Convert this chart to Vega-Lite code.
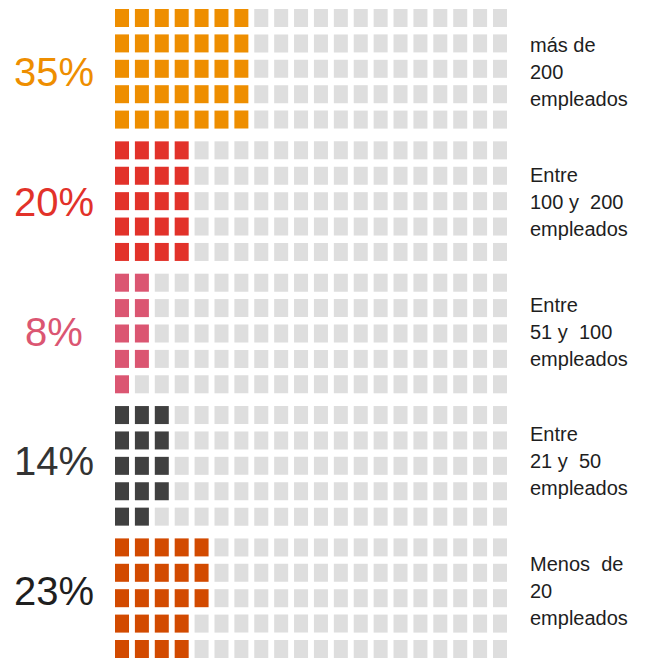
{
"$schema": "https://vega.github.io/schema/vega-lite/v6.json",
"padding": {"left": 0, "top": 9, "right": 0, "bottom": 0},
"background": "white",
"config": {"view": {"stroke": null}, "font": "Liberation Sans", "text": {"font": "Liberation Sans"}},
"spacing": 7,
"resolve": {"scale": {"color": "independent"}},
"datasets": {
"labels": [
{"g":1,"pct":"35%","label":"más de\n200\nempleados"},
{"g":2,"pct":"20%","label":"Entre\n100 y\u00a0 200\nempleados"},
{"g":3,"pct":"8%","label":"Entre\n51 y\u00a0 100\nempleados"},
{"g":4,"pct":"14%","label":"Entre\n21 y\u00a0 50\nempleados"},
{"g":5,"pct":"23%","label":"Menos\u00a0 de\n20\nempleados"}
],
"cells": [
{"g":1,"c":0,"r":0,"f":1},{"g":1,"c":0,"r":1,"f":1},{"g":1,"c":0,"r":2,"f":1},{"g":1,"c":0,"r":3,"f":1},{"g":1,"c":0,"r":4,"f":1},
{"g":1,"c":1,"r":0,"f":1},{"g":1,"c":1,"r":1,"f":1},{"g":1,"c":1,"r":2,"f":1},{"g":1,"c":1,"r":3,"f":1},{"g":1,"c":1,"r":4,"f":1},
{"g":1,"c":2,"r":0,"f":1},{"g":1,"c":2,"r":1,"f":1},{"g":1,"c":2,"r":2,"f":1},{"g":1,"c":2,"r":3,"f":1},{"g":1,"c":2,"r":4,"f":1},
{"g":1,"c":3,"r":0,"f":1},{"g":1,"c":3,"r":1,"f":1},{"g":1,"c":3,"r":2,"f":1},{"g":1,"c":3,"r":3,"f":1},{"g":1,"c":3,"r":4,"f":1},
{"g":1,"c":4,"r":0,"f":1},{"g":1,"c":4,"r":1,"f":1},{"g":1,"c":4,"r":2,"f":1},{"g":1,"c":4,"r":3,"f":1},{"g":1,"c":4,"r":4,"f":1},
{"g":1,"c":5,"r":0,"f":1},{"g":1,"c":5,"r":1,"f":1},{"g":1,"c":5,"r":2,"f":1},{"g":1,"c":5,"r":3,"f":1},{"g":1,"c":5,"r":4,"f":1},
{"g":1,"c":6,"r":0,"f":1},{"g":1,"c":6,"r":1,"f":1},{"g":1,"c":6,"r":2,"f":1},{"g":1,"c":6,"r":3,"f":1},{"g":1,"c":6,"r":4,"f":1},
{"g":1,"c":7,"r":0,"f":0},{"g":1,"c":7,"r":1,"f":0},{"g":1,"c":7,"r":2,"f":0},{"g":1,"c":7,"r":3,"f":0},{"g":1,"c":7,"r":4,"f":0},
{"g":1,"c":8,"r":0,"f":0},{"g":1,"c":8,"r":1,"f":0},{"g":1,"c":8,"r":2,"f":0},{"g":1,"c":8,"r":3,"f":0},{"g":1,"c":8,"r":4,"f":0},
{"g":1,"c":9,"r":0,"f":0},{"g":1,"c":9,"r":1,"f":0},{"g":1,"c":9,"r":2,"f":0},{"g":1,"c":9,"r":3,"f":0},{"g":1,"c":9,"r":4,"f":0},
{"g":1,"c":10,"r":0,"f":0},{"g":1,"c":10,"r":1,"f":0},{"g":1,"c":10,"r":2,"f":0},{"g":1,"c":10,"r":3,"f":0},{"g":1,"c":10,"r":4,"f":0},
{"g":1,"c":11,"r":0,"f":0},{"g":1,"c":11,"r":1,"f":0},{"g":1,"c":11,"r":2,"f":0},{"g":1,"c":11,"r":3,"f":0},{"g":1,"c":11,"r":4,"f":0},
{"g":1,"c":12,"r":0,"f":0},{"g":1,"c":12,"r":1,"f":0},{"g":1,"c":12,"r":2,"f":0},{"g":1,"c":12,"r":3,"f":0},{"g":1,"c":12,"r":4,"f":0},
{"g":1,"c":13,"r":0,"f":0},{"g":1,"c":13,"r":1,"f":0},{"g":1,"c":13,"r":2,"f":0},{"g":1,"c":13,"r":3,"f":0},{"g":1,"c":13,"r":4,"f":0},
{"g":1,"c":14,"r":0,"f":0},{"g":1,"c":14,"r":1,"f":0},{"g":1,"c":14,"r":2,"f":0},{"g":1,"c":14,"r":3,"f":0},{"g":1,"c":14,"r":4,"f":0},
{"g":1,"c":15,"r":0,"f":0},{"g":1,"c":15,"r":1,"f":0},{"g":1,"c":15,"r":2,"f":0},{"g":1,"c":15,"r":3,"f":0},{"g":1,"c":15,"r":4,"f":0},
{"g":1,"c":16,"r":0,"f":0},{"g":1,"c":16,"r":1,"f":0},{"g":1,"c":16,"r":2,"f":0},{"g":1,"c":16,"r":3,"f":0},{"g":1,"c":16,"r":4,"f":0},
{"g":1,"c":17,"r":0,"f":0},{"g":1,"c":17,"r":1,"f":0},{"g":1,"c":17,"r":2,"f":0},{"g":1,"c":17,"r":3,"f":0},{"g":1,"c":17,"r":4,"f":0},
{"g":1,"c":18,"r":0,"f":0},{"g":1,"c":18,"r":1,"f":0},{"g":1,"c":18,"r":2,"f":0},{"g":1,"c":18,"r":3,"f":0},{"g":1,"c":18,"r":4,"f":0},
{"g":1,"c":19,"r":0,"f":0},{"g":1,"c":19,"r":1,"f":0},{"g":1,"c":19,"r":2,"f":0},{"g":1,"c":19,"r":3,"f":0},{"g":1,"c":19,"r":4,"f":0},
{"g":2,"c":0,"r":0,"f":1},{"g":2,"c":0,"r":1,"f":1},{"g":2,"c":0,"r":2,"f":1},{"g":2,"c":0,"r":3,"f":1},{"g":2,"c":0,"r":4,"f":1},
{"g":2,"c":1,"r":0,"f":1},{"g":2,"c":1,"r":1,"f":1},{"g":2,"c":1,"r":2,"f":1},{"g":2,"c":1,"r":3,"f":1},{"g":2,"c":1,"r":4,"f":1},
{"g":2,"c":2,"r":0,"f":1},{"g":2,"c":2,"r":1,"f":1},{"g":2,"c":2,"r":2,"f":1},{"g":2,"c":2,"r":3,"f":1},{"g":2,"c":2,"r":4,"f":1},
{"g":2,"c":3,"r":0,"f":1},{"g":2,"c":3,"r":1,"f":1},{"g":2,"c":3,"r":2,"f":1},{"g":2,"c":3,"r":3,"f":1},{"g":2,"c":3,"r":4,"f":1},
{"g":2,"c":4,"r":0,"f":0},{"g":2,"c":4,"r":1,"f":0},{"g":2,"c":4,"r":2,"f":0},{"g":2,"c":4,"r":3,"f":0},{"g":2,"c":4,"r":4,"f":0},
{"g":2,"c":5,"r":0,"f":0},{"g":2,"c":5,"r":1,"f":0},{"g":2,"c":5,"r":2,"f":0},{"g":2,"c":5,"r":3,"f":0},{"g":2,"c":5,"r":4,"f":0},
{"g":2,"c":6,"r":0,"f":0},{"g":2,"c":6,"r":1,"f":0},{"g":2,"c":6,"r":2,"f":0},{"g":2,"c":6,"r":3,"f":0},{"g":2,"c":6,"r":4,"f":0},
{"g":2,"c":7,"r":0,"f":0},{"g":2,"c":7,"r":1,"f":0},{"g":2,"c":7,"r":2,"f":0},{"g":2,"c":7,"r":3,"f":0},{"g":2,"c":7,"r":4,"f":0},
{"g":2,"c":8,"r":0,"f":0},{"g":2,"c":8,"r":1,"f":0},{"g":2,"c":8,"r":2,"f":0},{"g":2,"c":8,"r":3,"f":0},{"g":2,"c":8,"r":4,"f":0},
{"g":2,"c":9,"r":0,"f":0},{"g":2,"c":9,"r":1,"f":0},{"g":2,"c":9,"r":2,"f":0},{"g":2,"c":9,"r":3,"f":0},{"g":2,"c":9,"r":4,"f":0},
{"g":2,"c":10,"r":0,"f":0},{"g":2,"c":10,"r":1,"f":0},{"g":2,"c":10,"r":2,"f":0},{"g":2,"c":10,"r":3,"f":0},{"g":2,"c":10,"r":4,"f":0},
{"g":2,"c":11,"r":0,"f":0},{"g":2,"c":11,"r":1,"f":0},{"g":2,"c":11,"r":2,"f":0},{"g":2,"c":11,"r":3,"f":0},{"g":2,"c":11,"r":4,"f":0},
{"g":2,"c":12,"r":0,"f":0},{"g":2,"c":12,"r":1,"f":0},{"g":2,"c":12,"r":2,"f":0},{"g":2,"c":12,"r":3,"f":0},{"g":2,"c":12,"r":4,"f":0},
{"g":2,"c":13,"r":0,"f":0},{"g":2,"c":13,"r":1,"f":0},{"g":2,"c":13,"r":2,"f":0},{"g":2,"c":13,"r":3,"f":0},{"g":2,"c":13,"r":4,"f":0},
{"g":2,"c":14,"r":0,"f":0},{"g":2,"c":14,"r":1,"f":0},{"g":2,"c":14,"r":2,"f":0},{"g":2,"c":14,"r":3,"f":0},{"g":2,"c":14,"r":4,"f":0},
{"g":2,"c":15,"r":0,"f":0},{"g":2,"c":15,"r":1,"f":0},{"g":2,"c":15,"r":2,"f":0},{"g":2,"c":15,"r":3,"f":0},{"g":2,"c":15,"r":4,"f":0},
{"g":2,"c":16,"r":0,"f":0},{"g":2,"c":16,"r":1,"f":0},{"g":2,"c":16,"r":2,"f":0},{"g":2,"c":16,"r":3,"f":0},{"g":2,"c":16,"r":4,"f":0},
{"g":2,"c":17,"r":0,"f":0},{"g":2,"c":17,"r":1,"f":0},{"g":2,"c":17,"r":2,"f":0},{"g":2,"c":17,"r":3,"f":0},{"g":2,"c":17,"r":4,"f":0},
{"g":2,"c":18,"r":0,"f":0},{"g":2,"c":18,"r":1,"f":0},{"g":2,"c":18,"r":2,"f":0},{"g":2,"c":18,"r":3,"f":0},{"g":2,"c":18,"r":4,"f":0},
{"g":2,"c":19,"r":0,"f":0},{"g":2,"c":19,"r":1,"f":0},{"g":2,"c":19,"r":2,"f":0},{"g":2,"c":19,"r":3,"f":0},{"g":2,"c":19,"r":4,"f":0},
{"g":3,"c":0,"r":0,"f":1},{"g":3,"c":0,"r":1,"f":1},{"g":3,"c":0,"r":2,"f":1},{"g":3,"c":0,"r":3,"f":1},{"g":3,"c":0,"r":4,"f":1},
{"g":3,"c":1,"r":0,"f":1},{"g":3,"c":1,"r":1,"f":1},{"g":3,"c":1,"r":2,"f":1},{"g":3,"c":1,"r":3,"f":1},{"g":3,"c":1,"r":4,"f":0},
{"g":3,"c":2,"r":0,"f":0},{"g":3,"c":2,"r":1,"f":0},{"g":3,"c":2,"r":2,"f":0},{"g":3,"c":2,"r":3,"f":0},{"g":3,"c":2,"r":4,"f":0},
{"g":3,"c":3,"r":0,"f":0},{"g":3,"c":3,"r":1,"f":0},{"g":3,"c":3,"r":2,"f":0},{"g":3,"c":3,"r":3,"f":0},{"g":3,"c":3,"r":4,"f":0},
{"g":3,"c":4,"r":0,"f":0},{"g":3,"c":4,"r":1,"f":0},{"g":3,"c":4,"r":2,"f":0},{"g":3,"c":4,"r":3,"f":0},{"g":3,"c":4,"r":4,"f":0},
{"g":3,"c":5,"r":0,"f":0},{"g":3,"c":5,"r":1,"f":0},{"g":3,"c":5,"r":2,"f":0},{"g":3,"c":5,"r":3,"f":0},{"g":3,"c":5,"r":4,"f":0},
{"g":3,"c":6,"r":0,"f":0},{"g":3,"c":6,"r":1,"f":0},{"g":3,"c":6,"r":2,"f":0},{"g":3,"c":6,"r":3,"f":0},{"g":3,"c":6,"r":4,"f":0},
{"g":3,"c":7,"r":0,"f":0},{"g":3,"c":7,"r":1,"f":0},{"g":3,"c":7,"r":2,"f":0},{"g":3,"c":7,"r":3,"f":0},{"g":3,"c":7,"r":4,"f":0},
{"g":3,"c":8,"r":0,"f":0},{"g":3,"c":8,"r":1,"f":0},{"g":3,"c":8,"r":2,"f":0},{"g":3,"c":8,"r":3,"f":0},{"g":3,"c":8,"r":4,"f":0},
{"g":3,"c":9,"r":0,"f":0},{"g":3,"c":9,"r":1,"f":0},{"g":3,"c":9,"r":2,"f":0},{"g":3,"c":9,"r":3,"f":0},{"g":3,"c":9,"r":4,"f":0},
{"g":3,"c":10,"r":0,"f":0},{"g":3,"c":10,"r":1,"f":0},{"g":3,"c":10,"r":2,"f":0},{"g":3,"c":10,"r":3,"f":0},{"g":3,"c":10,"r":4,"f":0},
{"g":3,"c":11,"r":0,"f":0},{"g":3,"c":11,"r":1,"f":0},{"g":3,"c":11,"r":2,"f":0},{"g":3,"c":11,"r":3,"f":0},{"g":3,"c":11,"r":4,"f":0},
{"g":3,"c":12,"r":0,"f":0},{"g":3,"c":12,"r":1,"f":0},{"g":3,"c":12,"r":2,"f":0},{"g":3,"c":12,"r":3,"f":0},{"g":3,"c":12,"r":4,"f":0},
{"g":3,"c":13,"r":0,"f":0},{"g":3,"c":13,"r":1,"f":0},{"g":3,"c":13,"r":2,"f":0},{"g":3,"c":13,"r":3,"f":0},{"g":3,"c":13,"r":4,"f":0},
{"g":3,"c":14,"r":0,"f":0},{"g":3,"c":14,"r":1,"f":0},{"g":3,"c":14,"r":2,"f":0},{"g":3,"c":14,"r":3,"f":0},{"g":3,"c":14,"r":4,"f":0},
{"g":3,"c":15,"r":0,"f":0},{"g":3,"c":15,"r":1,"f":0},{"g":3,"c":15,"r":2,"f":0},{"g":3,"c":15,"r":3,"f":0},{"g":3,"c":15,"r":4,"f":0},
{"g":3,"c":16,"r":0,"f":0},{"g":3,"c":16,"r":1,"f":0},{"g":3,"c":16,"r":2,"f":0},{"g":3,"c":16,"r":3,"f":0},{"g":3,"c":16,"r":4,"f":0},
{"g":3,"c":17,"r":0,"f":0},{"g":3,"c":17,"r":1,"f":0},{"g":3,"c":17,"r":2,"f":0},{"g":3,"c":17,"r":3,"f":0},{"g":3,"c":17,"r":4,"f":0},
{"g":3,"c":18,"r":0,"f":0},{"g":3,"c":18,"r":1,"f":0},{"g":3,"c":18,"r":2,"f":0},{"g":3,"c":18,"r":3,"f":0},{"g":3,"c":18,"r":4,"f":0},
{"g":3,"c":19,"r":0,"f":0},{"g":3,"c":19,"r":1,"f":0},{"g":3,"c":19,"r":2,"f":0},{"g":3,"c":19,"r":3,"f":0},{"g":3,"c":19,"r":4,"f":0},
{"g":4,"c":0,"r":0,"f":1},{"g":4,"c":0,"r":1,"f":1},{"g":4,"c":0,"r":2,"f":1},{"g":4,"c":0,"r":3,"f":1},{"g":4,"c":0,"r":4,"f":1},
{"g":4,"c":1,"r":0,"f":1},{"g":4,"c":1,"r":1,"f":1},{"g":4,"c":1,"r":2,"f":1},{"g":4,"c":1,"r":3,"f":1},{"g":4,"c":1,"r":4,"f":1},
{"g":4,"c":2,"r":0,"f":1},{"g":4,"c":2,"r":1,"f":1},{"g":4,"c":2,"r":2,"f":1},{"g":4,"c":2,"r":3,"f":1},{"g":4,"c":2,"r":4,"f":0},
{"g":4,"c":3,"r":0,"f":0},{"g":4,"c":3,"r":1,"f":0},{"g":4,"c":3,"r":2,"f":0},{"g":4,"c":3,"r":3,"f":0},{"g":4,"c":3,"r":4,"f":0},
{"g":4,"c":4,"r":0,"f":0},{"g":4,"c":4,"r":1,"f":0},{"g":4,"c":4,"r":2,"f":0},{"g":4,"c":4,"r":3,"f":0},{"g":4,"c":4,"r":4,"f":0},
{"g":4,"c":5,"r":0,"f":0},{"g":4,"c":5,"r":1,"f":0},{"g":4,"c":5,"r":2,"f":0},{"g":4,"c":5,"r":3,"f":0},{"g":4,"c":5,"r":4,"f":0},
{"g":4,"c":6,"r":0,"f":0},{"g":4,"c":6,"r":1,"f":0},{"g":4,"c":6,"r":2,"f":0},{"g":4,"c":6,"r":3,"f":0},{"g":4,"c":6,"r":4,"f":0},
{"g":4,"c":7,"r":0,"f":0},{"g":4,"c":7,"r":1,"f":0},{"g":4,"c":7,"r":2,"f":0},{"g":4,"c":7,"r":3,"f":0},{"g":4,"c":7,"r":4,"f":0},
{"g":4,"c":8,"r":0,"f":0},{"g":4,"c":8,"r":1,"f":0},{"g":4,"c":8,"r":2,"f":0},{"g":4,"c":8,"r":3,"f":0},{"g":4,"c":8,"r":4,"f":0},
{"g":4,"c":9,"r":0,"f":0},{"g":4,"c":9,"r":1,"f":0},{"g":4,"c":9,"r":2,"f":0},{"g":4,"c":9,"r":3,"f":0},{"g":4,"c":9,"r":4,"f":0},
{"g":4,"c":10,"r":0,"f":0},{"g":4,"c":10,"r":1,"f":0},{"g":4,"c":10,"r":2,"f":0},{"g":4,"c":10,"r":3,"f":0},{"g":4,"c":10,"r":4,"f":0},
{"g":4,"c":11,"r":0,"f":0},{"g":4,"c":11,"r":1,"f":0},{"g":4,"c":11,"r":2,"f":0},{"g":4,"c":11,"r":3,"f":0},{"g":4,"c":11,"r":4,"f":0},
{"g":4,"c":12,"r":0,"f":0},{"g":4,"c":12,"r":1,"f":0},{"g":4,"c":12,"r":2,"f":0},{"g":4,"c":12,"r":3,"f":0},{"g":4,"c":12,"r":4,"f":0},
{"g":4,"c":13,"r":0,"f":0},{"g":4,"c":13,"r":1,"f":0},{"g":4,"c":13,"r":2,"f":0},{"g":4,"c":13,"r":3,"f":0},{"g":4,"c":13,"r":4,"f":0},
{"g":4,"c":14,"r":0,"f":0},{"g":4,"c":14,"r":1,"f":0},{"g":4,"c":14,"r":2,"f":0},{"g":4,"c":14,"r":3,"f":0},{"g":4,"c":14,"r":4,"f":0},
{"g":4,"c":15,"r":0,"f":0},{"g":4,"c":15,"r":1,"f":0},{"g":4,"c":15,"r":2,"f":0},{"g":4,"c":15,"r":3,"f":0},{"g":4,"c":15,"r":4,"f":0},
{"g":4,"c":16,"r":0,"f":0},{"g":4,"c":16,"r":1,"f":0},{"g":4,"c":16,"r":2,"f":0},{"g":4,"c":16,"r":3,"f":0},{"g":4,"c":16,"r":4,"f":0},
{"g":4,"c":17,"r":0,"f":0},{"g":4,"c":17,"r":1,"f":0},{"g":4,"c":17,"r":2,"f":0},{"g":4,"c":17,"r":3,"f":0},{"g":4,"c":17,"r":4,"f":0},
{"g":4,"c":18,"r":0,"f":0},{"g":4,"c":18,"r":1,"f":0},{"g":4,"c":18,"r":2,"f":0},{"g":4,"c":18,"r":3,"f":0},{"g":4,"c":18,"r":4,"f":0},
{"g":4,"c":19,"r":0,"f":0},{"g":4,"c":19,"r":1,"f":0},{"g":4,"c":19,"r":2,"f":0},{"g":4,"c":19,"r":3,"f":0},{"g":4,"c":19,"r":4,"f":0},
{"g":5,"c":0,"r":0,"f":1},{"g":5,"c":0,"r":1,"f":1},{"g":5,"c":0,"r":2,"f":1},{"g":5,"c":0,"r":3,"f":1},{"g":5,"c":0,"r":4,"f":1},
{"g":5,"c":1,"r":0,"f":1},{"g":5,"c":1,"r":1,"f":1},{"g":5,"c":1,"r":2,"f":1},{"g":5,"c":1,"r":3,"f":1},{"g":5,"c":1,"r":4,"f":1},
{"g":5,"c":2,"r":0,"f":1},{"g":5,"c":2,"r":1,"f":1},{"g":5,"c":2,"r":2,"f":1},{"g":5,"c":2,"r":3,"f":1},{"g":5,"c":2,"r":4,"f":1},
{"g":5,"c":3,"r":0,"f":1},{"g":5,"c":3,"r":1,"f":1},{"g":5,"c":3,"r":2,"f":1},{"g":5,"c":3,"r":3,"f":1},{"g":5,"c":3,"r":4,"f":1},
{"g":5,"c":4,"r":0,"f":1},{"g":5,"c":4,"r":1,"f":1},{"g":5,"c":4,"r":2,"f":1},{"g":5,"c":4,"r":3,"f":0},{"g":5,"c":4,"r":4,"f":0},
{"g":5,"c":5,"r":0,"f":0},{"g":5,"c":5,"r":1,"f":0},{"g":5,"c":5,"r":2,"f":0},{"g":5,"c":5,"r":3,"f":0},{"g":5,"c":5,"r":4,"f":0},
{"g":5,"c":6,"r":0,"f":0},{"g":5,"c":6,"r":1,"f":0},{"g":5,"c":6,"r":2,"f":0},{"g":5,"c":6,"r":3,"f":0},{"g":5,"c":6,"r":4,"f":0},
{"g":5,"c":7,"r":0,"f":0},{"g":5,"c":7,"r":1,"f":0},{"g":5,"c":7,"r":2,"f":0},{"g":5,"c":7,"r":3,"f":0},{"g":5,"c":7,"r":4,"f":0},
{"g":5,"c":8,"r":0,"f":0},{"g":5,"c":8,"r":1,"f":0},{"g":5,"c":8,"r":2,"f":0},{"g":5,"c":8,"r":3,"f":0},{"g":5,"c":8,"r":4,"f":0},
{"g":5,"c":9,"r":0,"f":0},{"g":5,"c":9,"r":1,"f":0},{"g":5,"c":9,"r":2,"f":0},{"g":5,"c":9,"r":3,"f":0},{"g":5,"c":9,"r":4,"f":0},
{"g":5,"c":10,"r":0,"f":0},{"g":5,"c":10,"r":1,"f":0},{"g":5,"c":10,"r":2,"f":0},{"g":5,"c":10,"r":3,"f":0},{"g":5,"c":10,"r":4,"f":0},
{"g":5,"c":11,"r":0,"f":0},{"g":5,"c":11,"r":1,"f":0},{"g":5,"c":11,"r":2,"f":0},{"g":5,"c":11,"r":3,"f":0},{"g":5,"c":11,"r":4,"f":0},
{"g":5,"c":12,"r":0,"f":0},{"g":5,"c":12,"r":1,"f":0},{"g":5,"c":12,"r":2,"f":0},{"g":5,"c":12,"r":3,"f":0},{"g":5,"c":12,"r":4,"f":0},
{"g":5,"c":13,"r":0,"f":0},{"g":5,"c":13,"r":1,"f":0},{"g":5,"c":13,"r":2,"f":0},{"g":5,"c":13,"r":3,"f":0},{"g":5,"c":13,"r":4,"f":0},
{"g":5,"c":14,"r":0,"f":0},{"g":5,"c":14,"r":1,"f":0},{"g":5,"c":14,"r":2,"f":0},{"g":5,"c":14,"r":3,"f":0},{"g":5,"c":14,"r":4,"f":0},
{"g":5,"c":15,"r":0,"f":0},{"g":5,"c":15,"r":1,"f":0},{"g":5,"c":15,"r":2,"f":0},{"g":5,"c":15,"r":3,"f":0},{"g":5,"c":15,"r":4,"f":0},
{"g":5,"c":16,"r":0,"f":0},{"g":5,"c":16,"r":1,"f":0},{"g":5,"c":16,"r":2,"f":0},{"g":5,"c":16,"r":3,"f":0},{"g":5,"c":16,"r":4,"f":0},
{"g":5,"c":17,"r":0,"f":0},{"g":5,"c":17,"r":1,"f":0},{"g":5,"c":17,"r":2,"f":0},{"g":5,"c":17,"r":3,"f":0},{"g":5,"c":17,"r":4,"f":0},
{"g":5,"c":18,"r":0,"f":0},{"g":5,"c":18,"r":1,"f":0},{"g":5,"c":18,"r":2,"f":0},{"g":5,"c":18,"r":3,"f":0},{"g":5,"c":18,"r":4,"f":0},
{"g":5,"c":19,"r":0,"f":0},{"g":5,"c":19,"r":1,"f":0},{"g":5,"c":19,"r":2,"f":0},{"g":5,"c":19,"r":3,"f":0},{"g":5,"c":19,"r":4,"f":0}
]
},
"hconcat": [
{
"width": 108, "height": 649,
"data": {"name": "labels"},
"mark": {"type": "text", "fontSize": 40, "align": "center", "baseline": "middle", "font": "Liberation Sans"},
"encoding": {
"y": {"field": "g", "type": "ordinal", "axis": null, "scale": {"paddingInner": 0.0963, "paddingOuter": 0}},
"text": {"field": "pct"},
"color": {"field": "g", "type": "ordinal", "legend": null, "scale": {"domain": [1,2,3,4,5], "range": ["#EE8E00", "#E2322A", "#DB5672", "#333333", "#1F1F1F"]}}
}
},
{
"width": 392, "height": 649,
"data": {"name": "cells"},
"mark": {"type": "rect"},
"encoding": {
"x": {"field": "c", "type": "ordinal", "axis": null, "scale": {"paddingInner": 0.296, "paddingOuter": 0}},
"y": {"field": "g", "type": "ordinal", "axis": null, "scale": {"paddingInner": 0.0963, "paddingOuter": 0}},
"yOffset": {"field": "r", "type": "ordinal", "scale": {"paddingInner": 0.291, "paddingOuter": 0}},
"color": {
"condition": {"test": "datum.f == 1", "field": "g", "type": "ordinal", "legend": null, "scale": {"domain": [1,2,3,4,5], "range": ["#EE8E00", "#E2322A", "#DB5672", "#404040", "#D24A00"]}},
"value": "#DEDEDE"
}
}
},
{
"width": 32, "height": 649,
"data": {"name": "labels"},
"mark": {"type": "text", "fontSize": 20, "align": "left", "baseline": "middle", "lineBreak": "\n", "lineHeight": 27, "dy": -28, "color": "#1E1E1E", "font": "Liberation Sans"},
"encoding": {
"y": {"field": "g", "type": "ordinal", "axis": null, "scale": {"paddingInner": 0.0963, "paddingOuter": 0}},
"text": {"field": "label"}
}
}
]
}
